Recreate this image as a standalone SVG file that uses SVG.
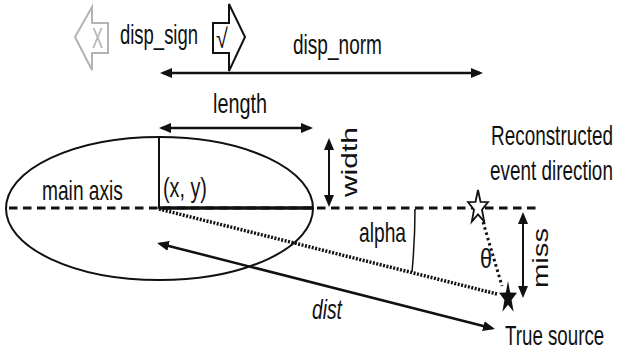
<svg xmlns="http://www.w3.org/2000/svg" width="619" height="353" viewBox="0 0 619 353">
<style>
text{font-family:"Liberation Sans",Arial,sans-serif;font-size:27px;fill:#111}
.rot{font-size:22px}
.ln{stroke:#111;fill:none}
</style>
<defs>
<marker id="ah" viewBox="0 0 12 10" refX="9" refY="5" markerWidth="12" markerHeight="10" markerUnits="userSpaceOnUse" orient="auto-start-reverse">
<path d="M0,0 L12,5 L0,10 Z" fill="#111"/>
</marker>
</defs>
<rect width="619" height="353" fill="#fff"/>
<g id="ellipse">
<ellipse cx="159.5" cy="208.5" rx="153.5" ry="71.5" class="ln" stroke-width="2"/>
</g>
<g id="connectors">
<line x1="9" y1="208" x2="540" y2="208" class="ln" stroke-width="3" stroke-dasharray="8.5 5.5"/>
<line x1="159" y1="137" x2="159" y2="209" class="ln" stroke-width="2"/>
<line x1="159" y1="208" x2="313" y2="208" class="ln" stroke-width="3.5"/>
<line x1="163" y1="73" x2="480" y2="73" class="ln" stroke-width="2.5" marker-start="url(#ah)" marker-end="url(#ah)"/>
<line x1="162" y1="128" x2="310" y2="128" class="ln" stroke-width="2.5" marker-start="url(#ah)" marker-end="url(#ah)"/>
<line x1="329" y1="141" x2="329" y2="204" class="ln" stroke-width="2" marker-start="url(#ah)" marker-end="url(#ah)"/>
<line x1="523" y1="215" x2="523" y2="295" class="ln" stroke-width="2" marker-start="url(#ah)" marker-end="url(#ah)"/>
<line x1="159.9" y1="243.7" x2="492.1" y2="328.3" class="ln" stroke-width="2.5" marker-start="url(#ah)" marker-end="url(#ah)"/>
<line x1="159" y1="209" x2="497" y2="294" class="ln" stroke-width="3.5" stroke-dasharray="2 1.5"/>
<line x1="483" y1="222" x2="502" y2="286" class="ln" stroke-width="3" stroke-dasharray="2.5 3"/>
<path d="M415,209 Q415,240 412,272" class="ln" stroke-width="1.5"/>
</g>
<g id="disp-sign-neg">
<polygon points="75,37 92,7 92,23 108,23 108,53 92,53 92,70" fill="#fff" stroke="#b3b3b3" stroke-width="2"/>
<text transform="translate(92,48) scale(0.57,1)" style="fill:#b3b3b3;font-size:29px">X</text>
</g>
<g id="disp-sign-pos">
<polygon points="213,23 229,23 229,4 245,37 229,71 229,53 213,53" fill="#fff" stroke="#111" stroke-width="2"/>
<text transform="translate(216,48) scale(0.8,1)" style="font-size:27px">√</text>
</g>
<g id="labels">
<text transform="translate(120,44) scale(0.684,1)">disp_sign</text>
<text transform="translate(293,54) scale(0.706,1)">disp_norm</text>
<text transform="translate(213,113) scale(0.734,1)">length</text>
<text class="rot" transform="translate(357,197) rotate(-90) scale(1.36,1)">width</text>
<text transform="translate(491,145) scale(0.701,1)">Reconstructed</text>
<text transform="translate(490,180) scale(0.700,1)">event direction</text>
<text transform="translate(42,200) scale(0.710,1)">main axis</text>
<text transform="translate(163,197) scale(0.733,1)">(x, y)</text>
<text transform="translate(359,242) scale(0.712,1)">alpha</text>
<text transform="translate(480,268) scale(0.8,1)">θ</text>
<text transform="translate(312,319) scale(0.714,1)" style="font-style:italic">dist</text>
<text transform="translate(505,345) scale(0.694,1)">True source</text>
<text class="rot" transform="translate(548,288) rotate(-90) scale(1.33,1)">miss</text>
</g>
<g id="reco-star">
<path d="M478,190 L480.5,201.8 L488,202.1 L482,209.7 L484.2,221.7 L478,214.5 L471.8,221.7 L474,209.7 L468,202.1 L475.5,201.8 Z" fill="#fff" stroke="#111" stroke-width="1.8" stroke-linejoin="miter"/>
</g>
<g id="true-star">
<path d="M508,281 L510.2,292.5 L517,292.7 L511.6,300.1 L513.6,311.8 L508,304.8 L502.4,311.8 L504.4,300.1 L499,292.7 L505.8,292.5 Z" fill="#111"/>
</g>
</svg>
